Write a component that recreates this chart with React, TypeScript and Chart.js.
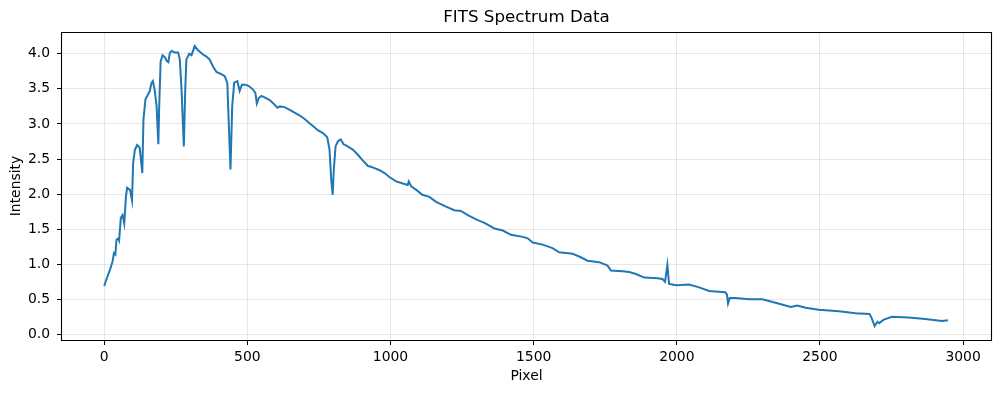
import React, { useEffect, useRef } from "react";
import { Chart, registerables } from "chart.js";

Chart.register(...registerables);

const pixels: number[] = [
  0, 8, 20, 29, 34, 39, 43, 49, 52, 58, 64, 70, 76, 80, 90, 97, 101, 107, 115, 124,
  133, 137, 144, 153, 159, 165, 170, 176, 183, 189, 192, 197, 204, 212, 218, 224, 229, 235, 247, 258,
  264, 270, 278, 283, 287, 297, 305, 316, 328, 345, 357, 368, 380, 392, 409, 421, 430, 435, 441, 447,
  454, 465, 473, 481, 493, 505, 520, 528, 533, 540, 549, 560, 578, 589, 605, 613, 630, 648, 665, 683,
  700, 717, 732, 746, 764, 779, 787, 793, 798, 802, 808, 816, 826, 836, 846, 858, 869, 886, 903, 921,
  932, 944, 962, 979, 997, 1020, 1043, 1060, 1064, 1072, 1090, 1111, 1136, 1159, 1194, 1223, 1246, 1270, 1299, 1328,
  1363, 1392, 1421, 1462, 1479, 1497, 1531, 1566, 1589, 1636, 1659, 1688, 1729, 1758, 1770, 1810, 1834, 1857, 1886, 1932,
  1950, 1959, 1967, 1973, 1999, 2043, 2078, 2113, 2169, 2175, 2179, 2185, 2206, 2252, 2299, 2345, 2398, 2421, 2450, 2496,
  2566, 2624, 2673, 2680, 2691, 2701, 2707, 2723, 2752, 2810, 2868, 2926, 2947,
];

const intensity: number[] = [
  0.69, 0.79, 0.92, 1.04, 1.16, 1.14, 1.35, 1.37, 1.34, 1.66, 1.70, 1.58, 1.97, 2.09, 2.06, 1.91, 2.44, 2.63, 2.70, 2.66,
  2.30, 3.06, 3.35, 3.42, 3.47, 3.58, 3.61, 3.49, 3.25, 2.71, 3.25, 3.89, 3.98, 3.95, 3.90, 3.88, 4.01, 4.04, 4.02, 4.02,
  3.92, 3.49, 2.68, 3.49, 3.92, 4.00, 3.98, 4.11, 4.05, 3.99, 3.96, 3.92, 3.82, 3.74, 3.71, 3.68, 3.58, 3.01, 2.35, 3.25,
  3.59, 3.61, 3.47, 3.56, 3.56, 3.54, 3.49, 3.44, 3.29, 3.37, 3.40, 3.38, 3.34, 3.30, 3.23, 3.25, 3.24, 3.20, 3.16, 3.12,
  3.07, 3.01, 2.96, 2.91, 2.87, 2.81, 2.63, 2.20, 1.99, 2.35, 2.68, 2.75, 2.78, 2.71, 2.69, 2.66, 2.63, 2.56, 2.48, 2.40,
  2.39, 2.37, 2.34, 2.30, 2.24, 2.18, 2.15, 2.13, 2.18, 2.11, 2.06, 1.99, 1.96, 1.89, 1.82, 1.77, 1.76, 1.70, 1.64, 1.59,
  1.51, 1.48, 1.42, 1.39, 1.37, 1.31, 1.28, 1.23, 1.17, 1.15, 1.11, 1.05, 1.03, 0.98, 0.91, 0.90, 0.89, 0.86, 0.81, 0.80,
  0.79, 0.75, 0.99, 0.72, 0.70, 0.71, 0.67, 0.62, 0.60, 0.57, 0.44, 0.52, 0.52, 0.50, 0.50, 0.45, 0.39, 0.41, 0.38, 0.35,
  0.33, 0.30, 0.29, 0.24, 0.12, 0.18, 0.16, 0.21, 0.25, 0.24, 0.22, 0.19, 0.20,
];

const xTicks: number[] = [0, 500, 1000, 1500, 2000, 2500, 3000];
const yTicks: number[] = [0, 0.5, 1.0, 1.5, 2.0, 2.5, 3.0, 3.5, 4.0];

const titleText = "FITS Spectrum Data";
const xLabel = "Pixel";
const yLabel = "Intensity";

const FONT = "'DejaVu Sans', sans-serif";

const spinesPlugin = {
  id: "spines",
  afterDraw(chart: any) {
    const { ctx, chartArea } = chart;
    const l = Math.round(chartArea.left) - 0.5;
    const r = Math.round(chartArea.right) + 0.5;
    const t = Math.round(chartArea.top) + 0.5;
    const b = Math.round(chartArea.bottom) + 0.5;
    ctx.save();
    ctx.strokeStyle = "#000";
    ctx.lineWidth = 1.1;
    ctx.beginPath();
    ctx.rect(l, t, r - l, b - t);
    ctx.stroke();
    ctx.restore();
  },
};

export default function App() {
  const ref = useRef<HTMLCanvasElement | null>(null);

  useEffect(() => {
    if (!ref.current) return;
    const data = pixels.map((p, i) => ({ x: p, y: intensity[i] }));
    const chart = new Chart(ref.current, {
      type: "line",
      data: {
        datasets: [
          {
            data,
            borderColor: "#1f77b4",
            borderWidth: 2,
            pointRadius: 0,
            tension: 0,
            fill: false,
          },
        ],
      },
      options: {
        animation: false,
        responsive: false,
        devicePixelRatio: 1,
        layout: { padding: { left: 0, right: 10, top: 0, bottom: 0 } },
        plugins: {
          legend: { display: false },
          tooltip: { enabled: false },
          title: {
            display: true,
            text: titleText,
            fullSize: false,
            color: "#000",
            font: { family: FONT, size: 16.7, weight: "normal", lineHeight: 1.2 },
            padding: { top: 8, bottom: 4 },
          },
        },
        scales: {
          x: {
            type: "linear",
            min: -147.5,
            max: 3097.5,
            afterBuildTicks: (s: any) => {
              s.ticks = xTicks.map((v) => ({ value: v }));
            },
            afterFit: (s: any) => {
              s.height = 53;
            },
            ticks: {
              color: "#000",
              font: { family: FONT, size: 13.9 },
              padding: 4,
              maxRotation: 0,
              autoSkip: false,
              callback: (v: any) => String(v),
            },
            grid: {
              color: "rgba(176,176,176,0.3)",
              lineWidth: 1,
              tickColor: "#000",
              tickLength: 5,
              drawTicks: true,
            },
            border: { display: false },
            title: {
              display: true,
              text: xLabel,
              color: "#000",
              font: { family: FONT, size: 13.9, lineHeight: 1.2 },
              padding: { top: 0, bottom: 8.5 },
            },
          },
          y: {
            type: "linear",
            min: -0.08,
            max: 4.31,
            afterBuildTicks: (s: any) => {
              s.ticks = yTicks.map((v) => ({ value: v }));
            },
            afterFit: (s: any) => {
              s.width = 62;
            },
            ticks: {
              color: "#000",
              font: { family: FONT, size: 13.9 },
              padding: 7,
              autoSkip: false,
              callback: (v: any) => Number(v).toFixed(1),
            },
            grid: {
              color: "rgba(176,176,176,0.3)",
              lineWidth: 1,
              tickColor: "#000",
              tickLength: 5,
              drawTicks: true,
            },
            border: { display: false },
            title: {
              display: true,
              text: yLabel,
              color: "#000",
              font: { family: FONT, size: 13.9, lineHeight: 1.2 },
              padding: { top: 7.7, bottom: 0 },
            },
          },
        },
      },
      plugins: [spinesPlugin],
    });
    return () => chart.destroy();
  }, []);

  return (
    <div style={{ position: "fixed", left: 0, top: 0, width: 1001, height: 393, background: "#fff" }}>
      <canvas ref={ref} width={1001} height={393} style={{ display: "block" }} />
    </div>
  );
}
